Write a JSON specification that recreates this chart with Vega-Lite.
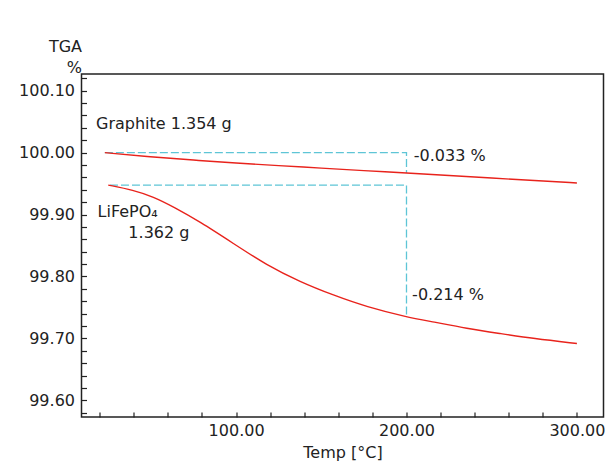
{
  "$schema": "https://vega.github.io/schema/vega-lite/v6.json",
  "width": 522,
  "height": 343,
  "autosize": {"type": "none"},
  "padding": {"left": 81.5, "top": 74, "right": 1.5, "bottom": 56},
  "background": "white",
  "config": {
    "view": {"stroke": "#222222", "strokeWidth": 1.5},
    "font": "DejaVu Sans",
    "axis": {
      "domain": false,
      "grid": false,
      "labelFont": "DejaVu Sans",
      "labelFontSize": 16,
      "labelColor": "#222222",
      "tickColor": "#222222",
      "tickWidth": 1.2,
      "tickSize": -5,
      "titleFont": "DejaVu Sans",
      "titleFontSize": 16,
      "titleFontWeight": "normal",
      "titleColor": "#222222"
    }
  },
  "datasets": {
    "curves": [
      {"series": "Graphite", "temp": 23, "value": 100.000},
      {"series": "Graphite", "temp": 50, "value": 99.993},
      {"series": "Graphite", "temp": 75, "value": 99.988},
      {"series": "Graphite", "temp": 100, "value": 99.983},
      {"series": "Graphite", "temp": 125, "value": 99.979},
      {"series": "Graphite", "temp": 150, "value": 99.975},
      {"series": "Graphite", "temp": 175, "value": 99.971},
      {"series": "Graphite", "temp": 200, "value": 99.967},
      {"series": "Graphite", "temp": 225, "value": 99.963},
      {"series": "Graphite", "temp": 250, "value": 99.959},
      {"series": "Graphite", "temp": 275, "value": 99.955},
      {"series": "Graphite", "temp": 300, "value": 99.951},
      {"series": "LiFePO4", "temp": 25.0, "value": 99.9476},
      {"series": "LiFePO4", "temp": 39.7, "value": 99.9395},
      {"series": "LiFePO4", "temp": 51.5, "value": 99.9286},
      {"series": "LiFePO4", "temp": 63.2, "value": 99.9125},
      {"series": "LiFePO4", "temp": 78.9, "value": 99.8882},
      {"series": "LiFePO4", "temp": 98.4, "value": 99.8533},
      {"series": "LiFePO4", "temp": 118.0, "value": 99.8182},
      {"series": "LiFePO4", "temp": 137.6, "value": 99.7912},
      {"series": "LiFePO4", "temp": 157.1, "value": 99.7697},
      {"series": "LiFePO4", "temp": 176.7, "value": 99.7508},
      {"series": "LiFePO4", "temp": 199.8, "value": 99.7347},
      {"series": "LiFePO4", "temp": 215.8, "value": 99.7266},
      {"series": "LiFePO4", "temp": 235.4, "value": 99.7159},
      {"series": "LiFePO4", "temp": 255.0, "value": 99.7078},
      {"series": "LiFePO4", "temp": 274.5, "value": 99.6997},
      {"series": "LiFePO4", "temp": 300.0, "value": 99.6917}
    ],
    "guides": [
      {"guide": "g", "order": 1, "temp": 23, "value": 100.000},
      {"guide": "g", "order": 2, "temp": 200, "value": 100.000},
      {"guide": "g", "order": 3, "temp": 200, "value": 99.967},
      {"guide": "l", "order": 1, "temp": 26, "value": 99.9476},
      {"guide": "l", "order": 2, "temp": 200, "value": 99.9476},
      {"guide": "l", "order": 3, "temp": 200, "value": 99.7347}
    ],
    "labels": [
      {"text": "Graphite 1.354 g", "temp": 17.8, "value": 100.038},
      {"text": "LiFePO₄", "temp": 18.7, "value": 99.8953},
      {"text": "1.362 g", "temp": 36.8, "value": 99.8614},
      {"text": "-0.033 %", "temp": 204.3, "value": 99.9868},
      {"text": "-0.214 %", "temp": 203.3, "value": 99.7617}
    ]
  },
  "encoding": {
    "x": {
      "field": "temp",
      "type": "quantitative",
      "scale": {"domain": [9.3, 315.6], "nice": false, "zero": false},
      "axis": {
        "values": [20, 40, 60, 80, 100, 120, 140, 160, 180, 200, 220, 240, 260, 280, 300],
        "labelExpr": "datum.value % 100 == 0 ? format(datum.value, '.2f') : ''",
        "labelPadding": 10,
        "labelFlush": false,
        "labelOverlap": false,
        "title": "Temp [°C]",
        "titleBaseline": "alphabetic",
        "titleY": 40
      }
    },
    "y": {
      "field": "value",
      "type": "quantitative",
      "scale": {"domain": [99.573, 100.127], "nice": false, "zero": false},
      "axis": {
        "values": [99.58, 99.6, 99.62, 99.64, 99.66, 99.68, 99.7, 99.72, 99.74, 99.76, 99.78, 99.8, 99.82, 99.84, 99.86, 99.88, 99.9, 99.92, 99.94, 99.96, 99.98, 100.0, 100.02, 100.04, 100.06, 100.08, 100.1, 100.12],
        "labelExpr": "abs(round(datum.value * 100)) % 10 == 0 ? format(datum.value, '.2f') : ''",
        "labelPadding": 12,
        "labelFlush": false,
        "labelOverlap": false,
        "title": ["TGA", "%"],
        "titleAngle": 0,
        "titleAlign": "right",
        "titleBaseline": "alphabetic",
        "titleX": 0,
        "titleY": -23,
        "titleLineHeight": 21
      }
    }
  },
  "layer": [
    {
      "data": {"name": "guides"},
      "mark": {"type": "line", "color": "#5ec5d6", "strokeWidth": 1.3, "strokeDash": [8, 3]},
      "encoding": {
        "detail": {"field": "guide"},
        "order": {"field": "order"}
      }
    },
    {
      "data": {"name": "curves"},
      "mark": {"type": "line", "color": "#e8231c", "strokeWidth": 1.4, "interpolate": "basis"},
      "encoding": {
        "detail": {"field": "series"}
      }
    },
    {
      "data": {"name": "labels"},
      "mark": {"type": "text", "align": "left", "baseline": "alphabetic", "font": "DejaVu Sans", "fontSize": 16, "color": "#222222"},
      "encoding": {
        "text": {"field": "text"}
      }
    }
  ]
}
